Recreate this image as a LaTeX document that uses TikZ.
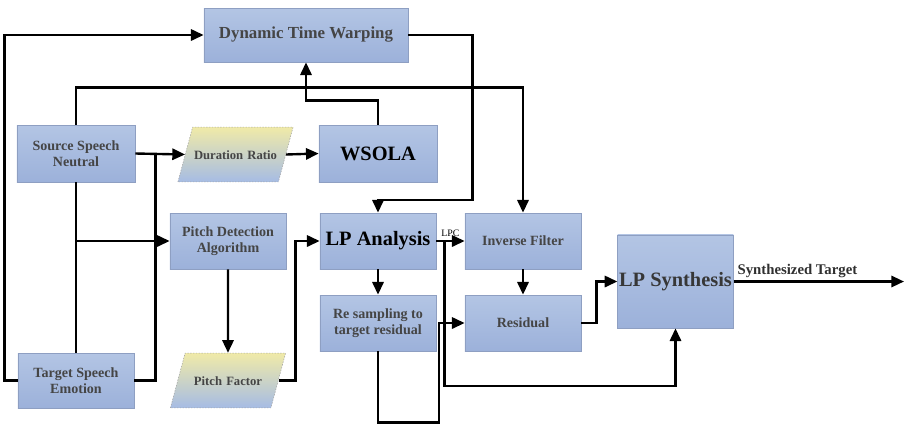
\documentclass[tikz,border=0pt]{standalone}
\usepackage{fontspec}
\setmainfont{Liberation Serif}
\usetikzlibrary{shapes.geometric, arrows.meta, calc}

\definecolor{boxtop}{HTML}{B3C5E4}
\definecolor{boxbot}{HTML}{9CB1DA}
\definecolor{boxline}{HTML}{8E9FC2}
\definecolor{paratop}{HTML}{F0EAA8}
\definecolor{parabot}{HTML}{A6BCE4}
\definecolor{labelgray}{HTML}{454545}

\begin{document}
\begin{tikzpicture}[
    x=0.025cm, y=-0.025cm,
    >={Triangle[length=9pt, width=8pt]},
    box/.style={rectangle, draw=boxline, line width=0.5pt, top color=boxtop, bottom color=boxbot,
        minimum width=2.9cm, minimum height=1.4cm, align=center, inner sep=1pt,
        font=\bfseries\fontsize{10}{11.8}\selectfont, text=labelgray},
    bigtext/.style={font=\bfseries\fontsize{14.5}{16}\selectfont, text=black},
    para/.style={trapezium, trapezium left angle=75, trapezium right angle=105,
        draw=gray!70, dash pattern=on 1pt off 1pt, line width=0.4pt, top color=paratop, bottom color=parabot,
        text width=60pt, text height=7pt, text depth=0pt, inner xsep=0.5pt, inner ysep=16pt, align=center,
        font=\bfseries\fontsize{9}{10}\selectfont, text=labelgray},
    line/.style={line width=1.7pt},
    arr/.style={line, ->}
]
\useasboundingbox (0,0) rectangle (906,424);

% Alignment
\node[box, minimum width=5.1cm, minimum height=1.35cm, font=\bfseries\fontsize{12}{14}\selectfont] (dtw) at (306,35) {Dynamic Time Warping};

% Inputs
\node[box, minimum width=2.95cm, minimum height=1.425cm] (source) at (76,153.5) {Source Speech\\Neutral};
\node[box, minimum height=1.375cm] (target) at (76,380.5) {Target Speech\\Emotion};

% Duration modification
\node[para] (ratio) at (235.5,154.5) {Duration Ratio};
\node[box, bigtext, minimum width=2.95cm, minimum height=1.425cm] (wsola) at (378,153.5) {WSOLA};

% Pitch modification
\node[box] (pda) at (228,241) {Pitch Detection\\Algorithm};
\node[para] (pitchf) at (228,380.5) {Pitch Factor};

% LP analysis / synthesis
\node[box, bigtext] (lpa) at (378,241) {LP Analysis};
\node[box] (resamp) at (378,323) {Re sampling to\\target residual};
\node[box] (inv) at (523,241) {Inverse Filter};
\node[box] (resid) at (523,323) {Residual};
\node[box, bigtext, text=labelgray!80!black, minimum width=2.875cm, minimum height=2.325cm] (lps) at (675.5,281.5) {LP Synthesis};
\coordinate (out) at (904,281.5);

% Arrows
\draw[arr] (target.west) -- ++(-13,0) |- (dtw.west);
\draw[arr] (source.north) -- ++(0,-37) -| (inv.north);
\draw[arr] (wsola.north) -- ++(0,-24) -| (dtw.south);
\draw[arr] (dtw.east) -- ++(64,0) -- ++(0,165) -| (lpa.north);
\draw[arr] (source.east) -- (ratio.west);
\draw[line] (target.east) -- ++(21,0) -- ++(0,-227);
\draw[line] (source.south) -- (target.north);
\draw[arr] (source.south |- pda.west) -- (pda.west);
\draw[arr] (ratio.east) -- (wsola.west);
\draw[arr] (pda.south) -- (pitchf.north);
\draw[arr] (pitchf.east) -- ++(17,0) |- (lpa.west);
\draw[arr] (lpa.east) -- node[above, font=\fontsize{7}{8}\selectfont, inner sep=2pt] {LPC} (inv.west);
\draw[arr] (lpa.east) -- ++(8,0) -- ++(0,145) -| (lps.south);
\draw[arr] (lpa.south) -- (resamp.north);
\draw[arr] (resamp.south) -- ++(0,71) -- ++(61,0) |- (resid.west);
\draw[arr] (inv.south) -- (resid.north);
\draw[arr] (resid.east) -- ++(15,0) |- (lps.west);
\draw[arr] (lps.east) -- node[pos=0, anchor=south west, inner sep=2pt, font=\bfseries\fontsize{10.5}{12}\selectfont, text=labelgray!70!black] {Synthesized Target} (out);

\end{tikzpicture}
\end{document}
